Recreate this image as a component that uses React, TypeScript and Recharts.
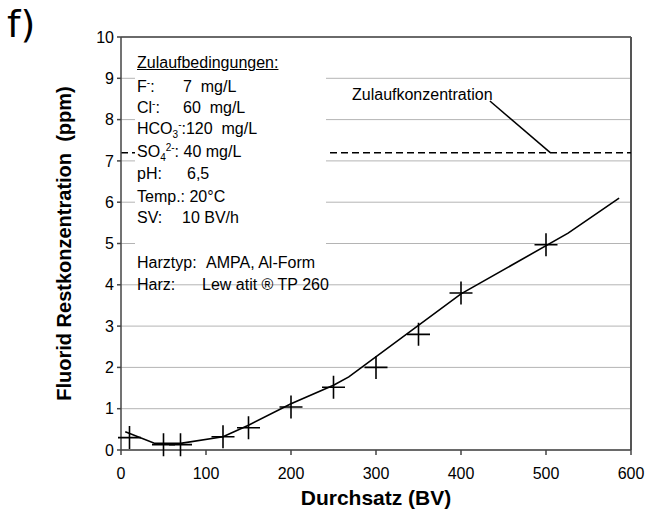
import React from "react";
import {
  ComposedChart,
  Line,
  Scatter,
  XAxis,
  YAxis,
  CartesianGrid,
  ReferenceLine,
} from "recharts";

// measured residual fluoride (crosses)
const measBV = [10, 50, 70, 120, 150, 200, 250, 300, 350, 400, 500];
const measF = [0.3, 0.13, 0.13, 0.32, 0.54, 1.04, 1.52, 2.0, 2.8, 3.8, 4.97];

// fitted curve
const fitBV = [5, 40, 70, 120, 150, 200, 250, 268, 400, 526, 586];
const fitF = [0.44, 0.16, 0.16, 0.32, 0.6, 1.12, 1.57, 1.77, 3.78, 5.25, 6.1];

const xTicks = [0, 100, 200, 300, 400, 500, 600];
const yTicks = [0, 1, 2, 3, 4, 5, 6, 7, 8, 9, 10];

const feedConc = 7.2;
const leader = [
  { x: 434, y: 8.45 },
  { x: 505, y: 7.2 },
];

const measData = measBV.map((x, i) => ({ x, y: measF[i] }));
const fitData = fitBV.map((x, i) => ({ x, y: fitF[i] }));

const FONT = "'Liberation Sans', Arial, sans-serif";

const Cross = (props: any) => {
  const { cx, cy } = props;
  return (
    <path
      d={`M${cx - 11.5},${cy}H${cx + 11.5}M${cx},${cy - 11.5}V${cy + 11.5}`}
      stroke="#000"
      strokeWidth={1.6}
      fill="none"
    />
  );
};

const YLabel = (props: any) => {
  const { viewBox } = props;
  const cy = viewBox.y + viewBox.height / 2;
  const x = 64;
  return (
    <text
      x={x}
      y={cy}
      transform={`rotate(-90, ${x}, ${cy})`}
      textAnchor="middle"
      dy="0.355em"
      fontFamily={FONT}
      fontWeight="bold"
      fontSize={20}
      fill="#000"
    >
      Fluorid Restkonzentration{"\u00a0\u00a0"}(ppm)
    </text>
  );
};

const sup: React.CSSProperties = { fontSize: 10, position: "relative", top: -6 };
const sub: React.CSSProperties = { fontSize: 10, position: "relative", top: 4 };

const line = (top: number): React.CSSProperties => ({
  position: "absolute",
  left: 137,
  top: top - 9,
  lineHeight: "18px",
  fontSize: 16,
  whiteSpace: "nowrap",
});

const col = (left: number): React.CSSProperties => ({
  position: "absolute",
  left: left - 137,
  top: 0,
});

export default function App() {
  return (
    <div
      style={{
        position: "absolute",
        left: 0,
        top: 0,
        width: 645,
        height: 515,
        background: "#fff",
        fontFamily: FONT,
        color: "#000",
      }}
    >
      <ComposedChart
        width={645}
        height={515}
        margin={{ top: 37, right: 14, bottom: 0, left: 61 }}
      >
        <CartesianGrid horizontal vertical={false} stroke="#b4b4b4" strokeWidth={1} />
        <XAxis
          type="number"
          dataKey="x"
          domain={[0, 600]}
          ticks={xTicks}
          height={65}
          tickSize={5}
          tickMargin={13}
          stroke="#444"
          strokeWidth={1.5}
          tick={{ fill: "#000", fontSize: 16, fontFamily: FONT }}
          label={{
            value: "Durchsatz (BV)",
            position: "insideBottom",
            offset: 10,
            fontSize: 21,
            fontWeight: "bold",
            fontFamily: FONT,
            fill: "#000",
          }}
        />
        <YAxis
          type="number"
          domain={[0, 10]}
          ticks={yTicks}
          width={60}
          tickSize={4}
          tickMargin={3}
          stroke="#444"
          strokeWidth={1.5}
          tick={{ fill: "#000", fontSize: 16, fontFamily: FONT }}
          label={<YLabel />}
        />
        <ReferenceLine y={10} stroke="#444" strokeWidth={1.5} />
        <ReferenceLine x={600} stroke="#555" strokeWidth={2} />
        <ReferenceLine y={feedConc} stroke="#000" strokeWidth={1.5} strokeDasharray="7 4" />
        <ReferenceLine segment={leader} stroke="#000" strokeWidth={1.5} />
        <Line
          data={fitData}
          dataKey="y"
          type="linear"
          stroke="#000"
          strokeWidth={1.6}
          dot={false}
          isAnimationActive={false}
        />
        <Scatter
          data={measData}
          dataKey="y"
          shape={Cross}
          isAnimationActive={false}
        />
      </ComposedChart>

      <div
        style={{
          position: "absolute",
          left: 7,
          top: 0,
          fontFamily: "'DejaVu Sans', sans-serif",
          fontSize: 38,
          lineHeight: "48px",
        }}
      >
        f)
      </div>

      <div
        style={{
          position: "absolute",
          left: 352,
          top: 86,
          fontSize: 16,
          lineHeight: "18px",
          whiteSpace: "nowrap",
        }}
      >
        Zulaufkonzentration
      </div>

      {/* feed conditions box */}
      <div
        style={{
          position: "absolute",
          left: 135,
          top: 40,
          width: 191,
          height: 237,
          background: "#fff",
        }}
      />
      <div style={{ ...line(63), textDecoration: "underline" }}>Zulaufbedingungen:</div>
      <div style={line(87)}>
        F<span style={sup}>-</span>:<span style={col(183)}>7&nbsp;&nbsp;mg/L</span>
      </div>
      <div style={line(108)}>
        Cl<span style={sup}>-</span>:<span style={col(183)}>60&nbsp;&nbsp;mg/L</span>
      </div>
      <div style={line(129)}>
        HCO<span style={sub}>3</span>
        <span style={sup}>-</span>:120&nbsp;&nbsp;mg/L
      </div>
      <div style={line(152)}>
        SO<span style={sub}>4</span>
        <span style={sup}>2-</span>: 40 mg/L
      </div>
      <div style={line(174)}>
        pH:<span style={col(187)}>6,5</span>
      </div>
      <div style={line(197)}>Temp.: 20°C</div>
      <div style={line(218)}>
        SV:<span style={col(182)}>10 BV/h</span>
      </div>
      <div style={line(263)}>
        Harztyp:<span style={col(206)}>AMPA, Al-Form</span>
      </div>
      <div style={line(285)}>
        Harz:<span style={col(202)}>Lew atit ® TP 260</span>
      </div>
    </div>
  );
}
